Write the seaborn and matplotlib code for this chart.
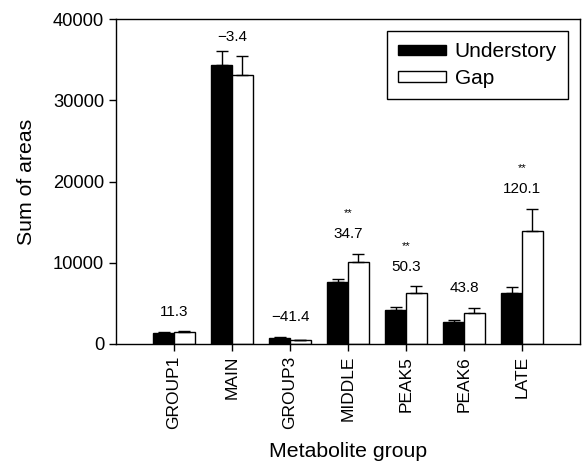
import numpy as np
import pandas as pd
import matplotlib
matplotlib.use("Agg")
import matplotlib.pyplot as plt
import seaborn as sns

# data
groups = ["GROUP1", "MAIN", "GROUP3", "MIDDLE", "PEAK5", "PEAK6", "LATE"]
understory = [1350, 34350, 800, 7600, 4180, 2750, 6320]
understory_err = [100, 1700, 80, 450, 420, 250, 650]
gap = [1500, 33100, 450, 10130, 6320, 3860, 13900]
gap_err = [100, 2350, 40, 1000, 820, 610, 2750]
pct_change = [11.3, -3.4, -41.4, 34.7, 50.3, 43.8, 120.1]
significant = [False, False, False, True, True, False, True]

sns.set_style("ticks")
plt.rcParams["font.family"] = ["Liberation Sans", "DejaVu Sans"]
plt.rcParams.update({"text.color": "black", "axes.labelcolor": "black",
                     "xtick.color": "black", "ytick.color": "black"})

df = pd.DataFrame({
    "group": groups * 2,
    "area": understory + gap,
    "site": ["Understory"] * len(groups) + ["Gap"] * len(groups),
})

fig = plt.figure(figsize=(5.85, 4.62), dpi=100)
ax = fig.add_axes([116 / 585, 1 - 344 / 462, 464 / 585, 325 / 462])

sns.barplot(data=df, x="group", y="area", hue="site", order=groups,
            hue_order=["Understory", "Gap"],
            palette={"Understory": "black", "Gap": "white"},
            edgecolor="black", linewidth=1.0, width=0.72,
            errorbar=None, ax=ax)

# upper error bars on each bar
bars = [p for p in ax.patches if p.get_height() > 0]
bars = sorted(bars, key=lambda p: p.get_x())
errs = []
for u, g in zip(understory_err, gap_err):
    errs += [u, g]
for p, e in zip(bars, errs):
    cx = p.get_x() + p.get_width() / 2
    ax.errorbar(cx, p.get_height(), yerr=[[0], [e]], fmt="none",
                ecolor="black", elinewidth=1.0, capsize=4, capthick=1.0)

# percent change labels
for i in range(len(groups)):
    top = max(understory[i] + understory_err[i], gap[i] + gap_err[i])
    txt = f"{pct_change[i]:.1f}".replace("-", "\u2212")
    ax.annotate(txt, (i, top), xytext=(0, 10 if i == 1 else 14),
                textcoords="offset points",
                ha="center", va="center", fontsize=11)
    if significant[i]:
        ax.annotate("**", (i, top), xytext=(0, 29), textcoords="offset points",
                    ha="center", va="center", fontsize=8)

ax.set_xlim(-1, len(groups))
ax.set_ylim(0, 40000)
ax.set_yticks(np.arange(0, 40001, 10000))
ax.set_xticks(range(len(groups)))
ax.set_xticklabels(groups, rotation=90)
ax.tick_params(axis="both", direction="out", length=5, width=1,
               color="black", labelcolor="black")
ax.tick_params(axis="y", labelsize=13.2)
ax.tick_params(axis="x", labelsize=12.5)
ax.set_xlabel("Metabolite group", fontsize=15.3, labelpad=9)
ax.set_ylabel("Sum of areas", fontsize=15.3, labelpad=12)

for s in ax.spines.values():
    s.set_visible(True)
    s.set_color("black")
    s.set_linewidth(1.0)

leg = ax.legend(loc="upper right", bbox_to_anchor=(0.975, 0.963),
                fontsize=15, frameon=True, fancybox=False, edgecolor="black",
                handlelength=2.3, handleheight=0.4, borderpad=0.55,
                labelspacing=0.35, handletextpad=0.4, borderaxespad=0)
leg.get_frame().set_linewidth(1.0)
leg.get_frame().set_alpha(1)

fig.savefig("out.png", dpi=100)
